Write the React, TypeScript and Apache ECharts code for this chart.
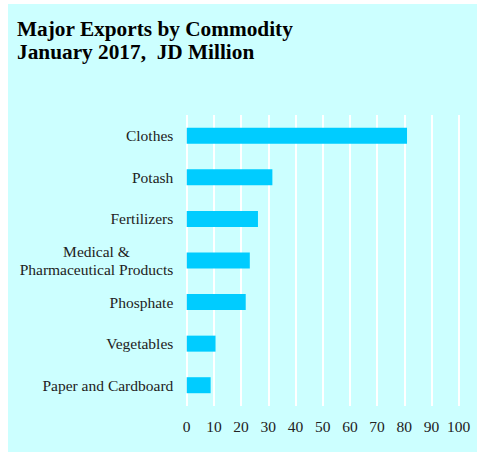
import React, { useEffect, useRef } from "react";
import * as echarts from "echarts";

const categories = [
  "Clothes",
  "Potash",
  "Fertilizers",
  "Medical &\nPharmaceutical Products",
  "Phosphate",
  "Vegetables",
  "Paper and Cardboard",
];
const values = [81, 31.5, 26.2, 23.2, 21.7, 10.6, 8.8];
const titleLines = ["Major Exports by Commodity", "January 2017,  JD Million"];
const xMin = 0;
const xMax = 100;
const xStep = 10;

const FONT = "Liberation Serif";

export default function App() {
  const ref = useRef<HTMLDivElement>(null);
  useEffect(() => {
    if (!ref.current) return;
    const chart = echarts.init(ref.current, null, { renderer: "svg" });
    chart.setOption({
      animation: false,
      backgroundColor: "#ccffff",
      textStyle: { fontFamily: FONT },
      title: {
        text: titleLines.join("\n"),
        left: 9,
        top: 14,
        padding: 0,
        textStyle: {
          fontFamily: FONT,
          fontSize: 21.3,
          fontWeight: "bold",
          color: "#000",
          lineHeight: 22.5,
        },
      },
      grid: {
        left: 178.7,
        right: 18.3,
        top: 111,
        bottom: 46,
        containLabel: false,
      },
      xAxis: {
        type: "value",
        min: xMin,
        max: xMax,
        interval: xStep,
        axisLine: { show: false },
        axisTick: { show: false },
        splitLine: { show: true, lineStyle: { color: "#ffffff", width: 2 } },
        axisLabel: {
          margin: 12,
          fontFamily: FONT,
          fontSize: 15.5,
          color: "#222",
        },
      },
      yAxis: {
        type: "category",
        data: categories,
        inverse: true,
        axisLine: { show: false },
        axisTick: { show: false },
        splitLine: { show: false },
        axisLabel: {
          margin: 13.4,
          fontFamily: FONT,
          fontSize: 15.5,
          color: "#222",
          lineHeight: 18.5,
          align: "right",
          formatter: (v: string) =>
            v.includes("\n")
              ? v
                  .split("\n")
                  .map((s) => "{c|" + s + "}")
                  .join("\n")
              : v,
          rich: {
            c: {
              align: "center",
              fontFamily: FONT,
              fontSize: 15.5,
              color: "#222",
              lineHeight: 18.5,
            },
          },
        },
      },
      series: [
        {
          type: "bar",
          data: values,
          barWidth: 16,
          itemStyle: { color: "#00ccff" },
        },
      ],
    });
    return () => chart.dispose();
  }, []);
  return (
    <div
      ref={ref}
      style={{
        position: "absolute",
        left: 8,
        top: 4,
        width: 469,
        height: 448,
      }}
    />
  );
}
